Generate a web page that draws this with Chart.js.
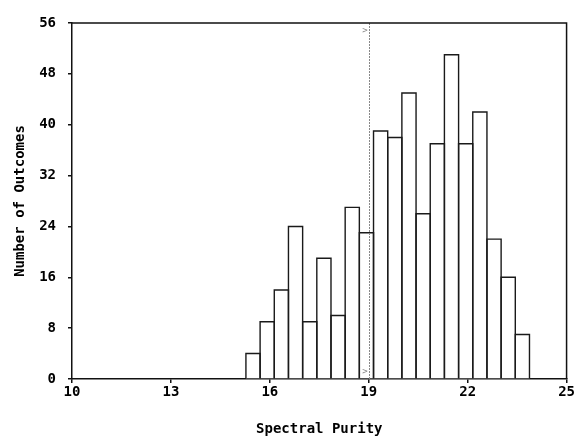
<!DOCTYPE html>
<html>
<head>
<meta charset="utf-8">
<title>Spectral Purity</title>
<script src="https://cdn.jsdelivr.net/npm/chart.js@4/dist/chart.umd.min.js"></script>
<style>
  html, body { margin: 0; padding: 0; background: #fff; }
  #wrap { width: 576px; height: 440px; }
</style>
</head>
<body>
<div id="wrap"><canvas id="chart" width="576" height="440"></canvas></div>
<script>
"use strict";

// bin centres (spectral purity) and counts
const binCenters = [15.49, 15.92, 16.35, 16.78, 17.21, 17.64, 18.07, 18.50, 18.93, 19.36,
                    19.79, 20.22, 20.65, 21.08, 21.51, 21.94, 22.37, 22.80, 23.23, 23.66];
const counts = [4, 9, 14, 24, 9, 19, 10, 27, 23, 39,
                38, 45, 26, 37, 51, 37, 42, 22, 16, 7];
const xTicks = [10, 13, 16, 19, 22, 25];
const yTicks = [0, 8, 16, 24, 32, 40, 48, 56];
const markerValue = 19;

const FONT = "'DejaVu Sans Mono', monospace";

// outlines the bars with single shared edges, like a drawn histogram
const barOutline = {
  id: "barOutline",
  afterDatasetsDraw(chart) {
    const { ctx } = chart;
    const meta = chart.getDatasetMeta(0);
    ctx.save();
    ctx.strokeStyle = "#1a1a1a";
    ctx.lineWidth = 1.4;
    ctx.lineJoin = "miter";
    meta.data.forEach(bar => {
      const { x, y, base, width } = bar.getProps(["x", "y", "base", "width"], true);
      const l = x - width / 2;
      const r = x + width / 2;
      ctx.beginPath();
      ctx.moveTo(l, base);
      ctx.lineTo(l, y);
      ctx.lineTo(r, y);
      ctx.lineTo(r, base);
      ctx.stroke();
    });
    ctx.restore();
  }
};

const frameAndMarker = {
  id: "frameAndMarker",
  afterDatasetsDraw(chart) {
    const { ctx, chartArea: a, scales } = chart;
    const x = scales.x.getPixelForValue(markerValue);

    ctx.save();
    // reference line
    ctx.strokeStyle = "#888";
    ctx.lineWidth = 1;
    ctx.setLineDash([2, 1]);
    ctx.beginPath();
    ctx.moveTo(Math.round(x) + 0.5, a.top);
    ctx.lineTo(Math.round(x) + 0.5, a.bottom);
    ctx.stroke();
    ctx.setLineDash([]);

    ctx.fillStyle = "#888";
    ctx.font = "9px " + FONT;
    ctx.textAlign = "right";
    ctx.textBaseline = "middle";
    ctx.fillText(">", x - 1, a.top + 8);
    ctx.fillText(">", x - 1, a.bottom - 7);

    // top and right frame
    ctx.strokeStyle = "#111";
    ctx.lineWidth = 1.5;
    ctx.beginPath();
    ctx.moveTo(a.left, a.top);
    ctx.lineTo(a.right, a.top);
    ctx.lineTo(a.right, a.bottom);
    ctx.stroke();
    ctx.restore();
  }
};

new Chart(document.getElementById("chart").getContext("2d"), {
  type: "bar",
  data: {
    datasets: [{
      data: binCenters.map((c, i) => ({ x: c, y: counts[i] })),
      backgroundColor: "#fff",
      borderWidth: 0,
      inflateAmount: 0,
      barThickness: "flex",
      categoryPercentage: 1,
      barPercentage: 1
    }]
  },
  options: {
    responsive: false,
    animation: false,
    layout: { padding: { top: 23, right: 9, left: 12, bottom: 2 } },
    plugins: {
      legend: { display: false },
      tooltip: { enabled: false }
    },
    scales: {
      x: {
        type: "linear",
        min: 10,
        max: 25,
        offset: false,
        afterBuildTicks: s => { s.ticks = xTicks.map(v => ({ value: v })); },
        afterFit: s => { s.height = 59; },
        grid: { offset: false, drawOnChartArea: false, tickLength: 4, color: "#111", lineWidth: 1.5 },
        border: { color: "#111", width: 1.5 },
        ticks: { color: "#000", padding: 1, font: { family: FONT, size: 14, weight: "bold" } },
        title: {
          display: true,
          text: "Spectral Purity",
          color: "#000",
          padding: { top: 0, bottom: 0 },
          font: { family: FONT, size: 14, weight: "bold" }
        }
      },
      y: {
        min: 0,
        max: 56,
        afterBuildTicks: s => { s.ticks = yTicks.map(v => ({ value: v })); },
        afterFit: s => { s.width = 60; },
        grid: { drawOnChartArea: false, tickLength: 4, color: "#111", lineWidth: 1.5 },
        border: { color: "#111", width: 1.5 },
        ticks: { color: "#000", padding: 12, font: { family: FONT, size: 14, weight: "bold" } },
        title: {
          display: true,
          text: "Number of Outcomes",
          color: "#000",
          padding: { top: 0, bottom: 0 },
          font: { family: FONT, size: 14, weight: "bold" }
        }
      }
    }
  },
  plugins: [barOutline, frameAndMarker]
});
</script>
</body>
</html>
